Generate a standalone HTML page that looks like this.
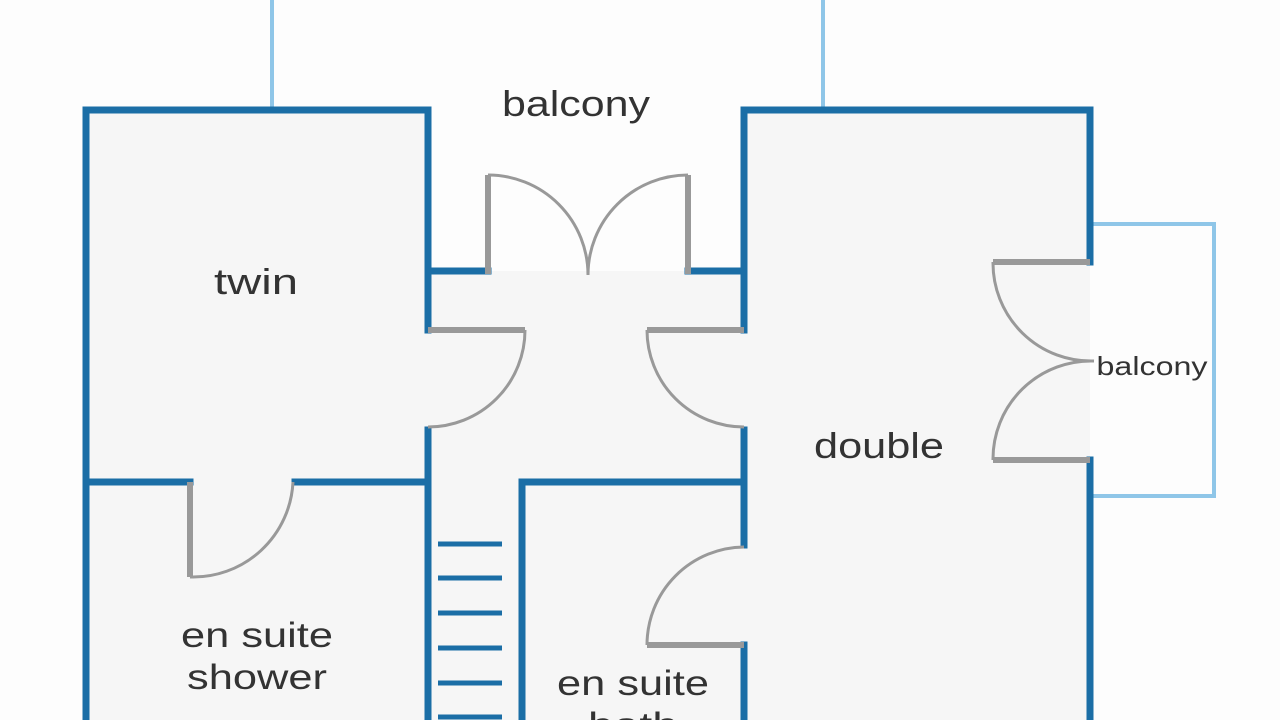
<!DOCTYPE html>
<html><head><style>
html,body{margin:0;padding:0;background:#fdfdfd;width:1280px;height:720px;overflow:hidden}
svg{display:block}
text{font-family:"Liberation Sans",sans-serif;fill:#333;text-anchor:middle}
</style></head><body>
<svg width="1280" height="720" viewBox="0 0 1280 720" xmlns="http://www.w3.org/2000/svg">
<rect width="1280" height="720" fill="#fdfdfd"/>
<rect x="86" y="110" width="342" height="610" fill="#f6f6f6"/>
<rect x="428" y="271" width="316" height="449" fill="#f6f6f6"/>
<rect x="744" y="110" width="346" height="610" fill="#f6f6f6"/>
<g stroke="#8fc6e8" stroke-width="4" fill="none">
<line x1="272" y1="0" x2="272" y2="107"/>
<line x1="823" y1="0" x2="823" y2="107"/>
<polyline points="1092,224 1214,224 1214,496 1092,496"/>
</g>
<g stroke="#1b6ea6" stroke-width="7" fill="none" stroke-linecap="square">
<polyline points="86,720 86,110 428,110 428,330"/>
<line x1="428" y1="430" x2="428" y2="720"/>
<line x1="86" y1="482" x2="190" y2="482"/>
<line x1="295" y1="482" x2="428" y2="482"/>
<line x1="428" y1="271" x2="488" y2="271"/>
<line x1="688" y1="271" x2="744" y2="271"/>
<polyline points="744,330 744,110 1090,110 1090,262"/>
<line x1="1090" y1="460" x2="1090" y2="720"/>
<line x1="744" y1="430" x2="744" y2="545"/>
<line x1="744" y1="645" x2="744" y2="720"/>
<polyline points="522,720 522,482 744,482"/>
</g>
<g stroke="#1b6ea6" stroke-width="5">
<line x1="438" y1="544" x2="502" y2="544"/>
<line x1="438" y1="578" x2="502" y2="578"/>
<line x1="438" y1="613" x2="502" y2="613"/>
<line x1="438" y1="648" x2="502" y2="648"/>
<line x1="438" y1="683" x2="502" y2="683"/>
<line x1="438" y1="717" x2="502" y2="717"/>
</g>
<g stroke="#999" fill="none">
<g stroke-width="6">
<line x1="488" y1="274" x2="488" y2="175"/>
<line x1="688" y1="274" x2="688" y2="175"/>
<line x1="428" y1="330" x2="525" y2="330"/>
<line x1="744" y1="330" x2="647" y2="330"/>
<line x1="190" y1="482" x2="190" y2="577"/>
<line x1="744" y1="645" x2="647" y2="645"/>
<line x1="1090" y1="262" x2="993" y2="262"/>
<line x1="1090" y1="460" x2="993" y2="460"/>
</g>
<g stroke-width="3">
<path d="M488,175 A100,100 0 0 1 588,275"/>
<path d="M688,175 A100,100 0 0 0 588,275"/>
<path d="M525,330 A97,97 0 0 1 428,427"/>
<path d="M647,330 A97,97 0 0 0 744,427"/>
<path d="M190,577 A100,100 0 0 0 293,482"/>
<path d="M647,645 A98,98 0 0 1 744,547"/>
<path d="M993,262 A98,98 0 0 0 1094,361"/>
<path d="M993,460 A98,98 0 0 1 1094,361"/>
</g>
</g>
<text x="576" y="116" font-size="36" textLength="148" lengthAdjust="spacingAndGlyphs">balcony</text>
<text x="256" y="294" font-size="36" textLength="84" lengthAdjust="spacingAndGlyphs">twin</text>
<text x="879" y="458" font-size="36" textLength="130" lengthAdjust="spacingAndGlyphs">double</text>
<text x="1152" y="375" font-size="26" textLength="111" lengthAdjust="spacingAndGlyphs">balcony</text>
<text x="257" y="647" font-size="35" textLength="152" lengthAdjust="spacingAndGlyphs">en suite</text>
<text x="257" y="689" font-size="35" textLength="140" lengthAdjust="spacingAndGlyphs">shower</text>
<text x="633" y="695" font-size="35" textLength="152" lengthAdjust="spacingAndGlyphs">en suite</text>
<text x="633" y="737" font-size="35" textLength="90" lengthAdjust="spacingAndGlyphs">bath</text>
</svg>
</body></html>
